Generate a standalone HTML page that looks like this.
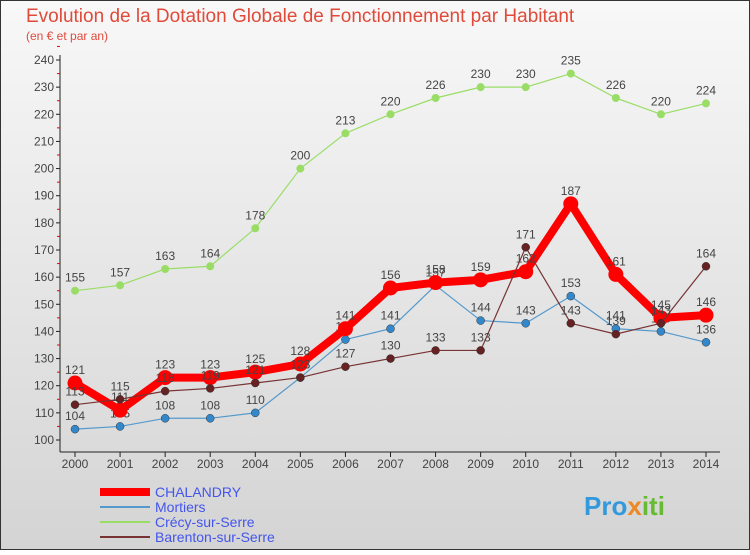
<!DOCTYPE html>
<html><head><meta charset="utf-8"><style>
body{margin:0;width:750px;height:550px;overflow:hidden;font-family:"Liberation Sans","DejaVu Sans",sans-serif}
</style></head><body>
<svg width="750" height="550" viewBox="0 0 750 550" xmlns="http://www.w3.org/2000/svg">
<defs><linearGradient id="bg" x1="0" y1="0" x2="0" y2="1"><stop offset="0" stop-color="#f8f8f8"/><stop offset="1" stop-color="#d4d4d4"/></linearGradient></defs>
<rect x="0.5" y="0.5" width="749" height="549" fill="url(#bg)" stroke="#333"/>
<text x="26" y="22" font-size="19" fill="#e04a3a">Evolution de la Dotation Globale de Fonctionnement par Habitant</text>
<text x="26" y="40" font-size="12" fill="#e04a3a">(en € et par an)</text>
<g id="axes"></g><g id="series"></g><g id="legend"></g>
<text x="584" y="515" font-size="26" font-weight="bold"><tspan fill="#3399dd">Pro</tspan><tspan fill="#ee8822">x</tspan><tspan fill="#66bb33">iti</tspan></text>
</svg>
<script>
const years=[2000,2001,2002,2003,2004,2005,2006,2007,2008,2009,2010,2011,2012,2013,2014];
const yTicks=[100,110,120,130,140,150,160,170,180,190,200,210,220,230,240];
const chalandry=[121,111,123,123,125,128,141,156,158,159,162,187,161,145,146];
const mortiers=[104,105,108,108,110,123,137,141,157,144,143,153,141,140,136];
const crecy=[155,157,163,164,178,200,213,220,226,230,230,235,226,220,224];
const barenton=[113,115,118,119,121,123,127,130,133,133,171,143,139,143,164];
const NS="http://www.w3.org/2000/svg";
const X=i=>75+i*(706-75)/14;
const Y=v=>440-(v-100)*(380/140);
function mk(t,a,p){const e=document.createElementNS(NS,t);for(const k in a)e.setAttribute(k,a[k]);p.appendChild(e);return e;}
const ax=document.getElementById('axes');
const ya=mk('line',{x1:60,y1:55,x2:60,y2:452,stroke:'#222'},ax);


const xa=mk('line',{x1:60,y1:452,x2:720,y2:452,stroke:'#222'},ax);


yTicks.forEach(v=>{
 mk('line',{x1:56,y1:Y(v),x2:60,y2:Y(v),stroke:'#222'},ax);
 mk('line',{x1:57,y1:Y(v+5),x2:60,y2:Y(v+5),stroke:'#e00'},ax);
 const t=mk('text',{x:54,y:Y(v)+4,'text-anchor':'end','font-size':12,fill:'#444'},ax);t.textContent=v;
 
 
});
years.forEach((y,i)=>{
 mk('line',{x1:X(i),y1:452,x2:X(i),y2:457,stroke:'#222'},ax);
 const t=mk('text',{x:X(i),y:468,'text-anchor':'middle','font-size':12,fill:'#444'},ax);t.textContent=y;
 
 
});
const sg=document.getElementById('series');
function series(d,name,col,w,r,dot){
 const g=mk('g',{},sg);
 
 
 mk('polyline',{points:d.map((v,i)=>X(i)+','+Y(v)).join(' '),fill:'none',stroke:col,'stroke-width':w,'stroke-linejoin':'round'},g);
 d.forEach((v,i)=>{
  const c=mk('circle',{cx:X(i),cy:Y(v),r:r,fill:dot,stroke:col==dot?'none':'#333','stroke-width':0.5},g);
  
  
  const t=mk('text',{x:X(i),y:Y(v)-9,'text-anchor':'middle','font-size':12,fill:'#444'},g);t.textContent=v;
 });
}
series(crecy,'crecy','#99dd66',1.2,4,'#99dd66');
series(mortiers,'mortiers','#5599cc',1.2,4,'#3388cc');
series(chalandry,'chalandry','#ff0000',8,7.5,'#ff0000');
series(barenton,'barenton','#773333',1.2,4,'#662222');
const lg=document.getElementById('legend');
[['CHALANDRY','#ff0000',8],['Mortiers','#5599cc',2],['Crécy-sur-Serre','#99dd66',2],['Barenton-sur-Serre','#773333',2]].forEach((e,i)=>{
 const y=492+i*15;
 const g=mk('g',{},lg);
 
 
 mk('line',{x1:100,y1:y,x2:150,y2:y,stroke:e[1],'stroke-width':e[2]},g);
 const t=mk('text',{x:155,y:y+5,'font-size':14,fill:'#4455ee'},g);t.textContent=e[0];
});
</script>
</body></html>
